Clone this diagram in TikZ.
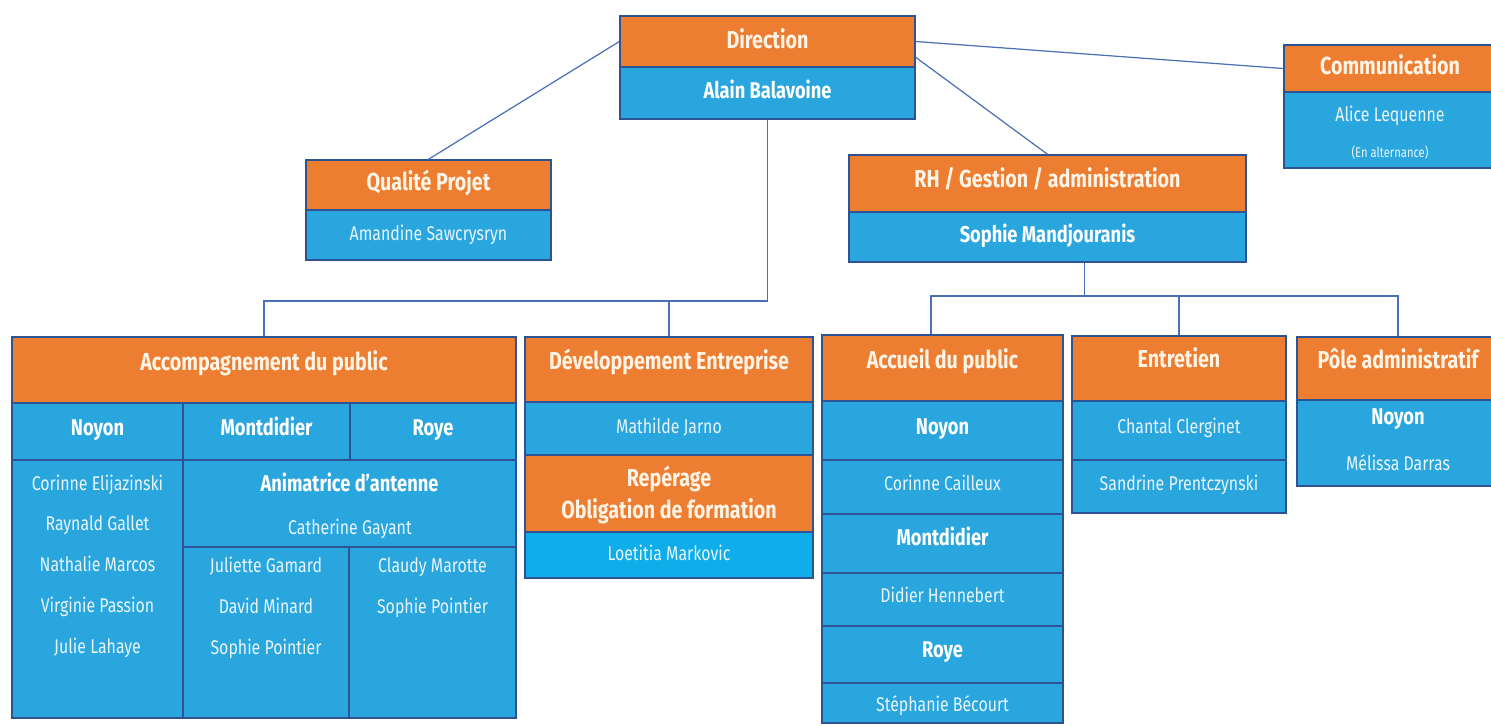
\documentclass[tikz,border=0pt]{standalone}
\usepackage{fontspec}
\setmainfont{Fira Sans}[FakeStretch=0.8]

\definecolor{orgorange}{HTML}{ED7D31}
\definecolor{orgblue}{HTML}{2AA6DF}
\definecolor{orgcyan}{HTML}{0FAEEA}
\definecolor{orgborder}{HTML}{2E5395}
\definecolor{orglink}{HTML}{4A70B5}
\definecolor{headtext}{HTML}{FFF4E6}
\definecolor{nametext}{HTML}{E8F5FC}

% one cell: name, x1, y1, x2, y2, box style, text y, text style, text
\newcommand{\orgcell}[9]{%
  \node[#6, minimum width={(#4-#2)*0.02cm}, minimum height={(#5-#3)*0.02cm}] (#1) at ({(#2+#4)/2},{(#3+#5)/2}) {};
  \node[#8] (#1-t) at ({(#2+#4)/2},#7) {#9};
}

\begin{document}
\begin{tikzpicture}[x=0.02cm, y=-0.02cm,
  cellbox/.style={draw=orgborder, line width=0.8pt, inner sep=0pt},
  head/.style={cellbox, fill=orgorange},
  body/.style={cellbox, fill=orgblue},
  bodyb/.style={cellbox, fill=orgcyan},
  ttl/.style={text=headtext, font=\bfseries\fontsize{14}{18}\selectfont, inner sep=0pt, text height=0.72em, text depth=0pt},
  ttltwo/.style={text=headtext, font=\bfseries\fontsize{14}{18}\selectfont, align=center, inner sep=0pt},
  sub/.style={text=white, font=\bfseries\fontsize{13}{16}\selectfont, inner sep=0pt, text height=0.72em, text depth=0pt},
  nm/.style={text=nametext, font=\fontsize{11.3}{14}\selectfont, inner sep=0pt, text height=0.72em, text depth=0pt},
  lst/.style={text=nametext, font=\fontsize{11.3}{23.2}\selectfont, align=center, inner sep=0pt},
  note/.style={text=nametext, font=\fontsize{8}{10}\selectfont, inner sep=0pt},
  link/.style={draw=orglink, line width=0.7pt}]

\clip (0,0) rectangle (1491,725);

% top level
\orgcell{dir}{620}{16}{915}{67}{head}{42}{ttl}{Direction}
\orgcell{dirName}{620}{67}{915}{119}{body}{92}{sub}{Alain Balavoine}
\orgcell{comm}{1284}{45}{1496}{92}{head}{68}{ttl}{Communication}
\orgcell{commName}{1284}{92}{1496}{168}{body}{115}{nm}{Alice Lequenne}
\node[note] (commNote) at (1390,153) {(En alternance)};
\orgcell{qual}{306}{160}{551}{210}{head}{184}{ttl}{Qualité Projet}
\orgcell{qualName}{306}{210}{551}{260}{body}{234}{nm}{Amandine Sawcrysryn}
\orgcell{rh}{849}{155}{1246}{212}{head}{181}{ttl}{RH / Gestion / administration}
\orgcell{rhName}{849}{212}{1246}{262}{body}{236}{sub}{Sophie Mandjouranis}

% accompagnement
\orgcell{acc}{12}{337}{516}{403}{head}{364}{ttl}{Accompagnement du public}
\orgcell{accNoyon}{12}{403}{183}{460}{body}{429}{sub}{Noyon}
\orgcell{accMont}{183}{403}{350}{460}{body}{429}{sub}{Montdidier}
\orgcell{accRoye}{350}{403}{516}{460}{body}{429}{sub}{Roye}
\orgcell{accNoyonList}{12}{460}{183}{718}{body}{566}{lst}{Corinne Elijazinski\\Raynald Gallet\\Nathalie Marcos\\Virginie Passion\\Julie Lahaye}
\orgcell{accAnim}{183}{460}{516}{547}{body}{485}{sub}{Animatrice d'antenne}
\node[nm] (accAnimName) at (350,528) {Catherine Gayant};
\orgcell{accMontList}{183}{547}{349}{718}{body}{608}{lst}{Juliette Gamard\\David Minard\\Sophie Pointier}
\orgcell{accRoyeList}{349}{547}{516}{718}{body}{588}{lst}{Claudy Marotte\\Sophie Pointier}

% developpement
\orgcell{dev}{525}{337}{813}{402}{head}{363}{ttl}{Développement Entreprise}
\orgcell{devName}{525}{402}{813}{455}{body}{427}{nm}{Mathilde Jarno}
\orgcell{rep}{525}{455}{813}{532}{head}{495}{ttltwo}{Repérage\\Obligation de formation}
\orgcell{repName}{525}{532}{813}{578}{bodyb}{554}{nm}{Loetitia Markovic}

% accueil
\orgcell{accu}{822}{335}{1063}{401}{head}{362}{ttl}{Accueil du public}
\orgcell{accuNoyon}{822}{401}{1063}{460}{body}{428}{sub}{Noyon}
\orgcell{accuNoyonName}{822}{460}{1063}{514}{body}{484}{nm}{Corinne Cailleux}
\orgcell{accuMont}{822}{514}{1063}{573}{body}{539}{sub}{Montdidier}
\orgcell{accuMontName}{822}{573}{1063}{626}{body}{596}{nm}{Didier Hennebert}
\orgcell{accuRoye}{822}{626}{1063}{683}{body}{651}{sub}{Roye}
\orgcell{accuRoyeName}{822}{683}{1063}{723}{body}{705}{nm}{Stéphanie Bécourt}

% entretien, pole
\orgcell{ent}{1072}{336}{1286}{401}{head}{361}{ttl}{Entretien}
\orgcell{entName}{1072}{401}{1286}{460}{body}{427}{nm}{Chantal Clerginet}
\orgcell{entName2}{1072}{460}{1286}{513}{body}{484}{nm}{Sandrine Prentczynski}
\orgcell{pole}{1297}{337}{1499}{400}{head}{362}{ttl}{Pôle administratif}
\orgcell{poleNoyon}{1297}{400}{1499}{486}{body}{418}{sub}{Noyon}
\node[nm] (poleName) at (1398,464) {Mélissa Darras};

% links
\coordinate (splitL) at (0,301);
\coordinate (splitR) at (0,296);
\coordinate (rhOut) at ([xshift=0.74cm]rhName.south);
\coordinate (accuIn) at ([xshift=-0.23cm]accu.north);
\draw[link] (dir.west) -- (qual.north);
\draw[link] (dir.east) -- (comm.west);
\draw[link] ([yshift=0.18cm]dirName.north east) -- (rh.north);
\draw[link] (dirName.south) -- (dirName.south |- splitL) -| (acc.north);
\draw[link] (dev.north) -- (dev.north |- splitL);
\draw[link] (rhOut) -- (rhOut |- splitR);
\draw[link] (accuIn) |- (pole.north |- splitR) -- (pole.north);
\draw[link] (ent.north) -- (ent.north |- splitR);
\end{tikzpicture}
\end{document}
